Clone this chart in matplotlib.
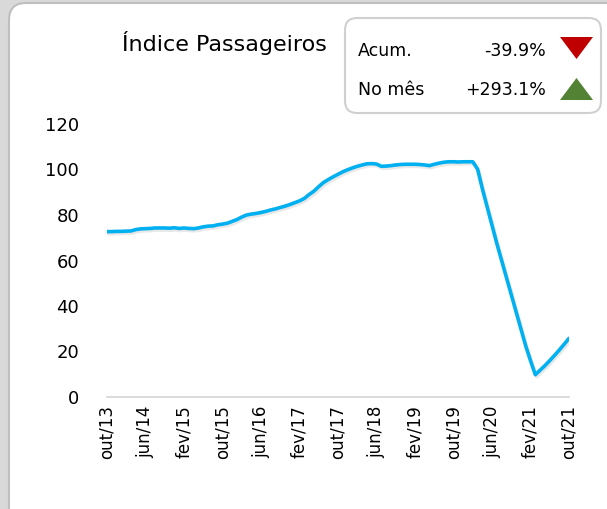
import matplotlib
matplotlib.use("Agg")
import matplotlib.pyplot as plt
import matplotlib.patheffects as pe
from matplotlib.patches import FancyBboxPatch, Polygon
import numpy as np

# Índice de passageiros, mensal, out/13 a out/21
indice = [
    72.7, 72.7, 72.8, 72.8, 72.9, 73.0, 73.6, 73.9, 74.0, 74.1,
    74.3, 74.3, 74.3, 74.2, 74.4, 74.1, 74.3, 74.1, 74.0, 74.3,
    74.8, 75.1, 75.2, 75.7, 76.0, 76.4, 77.2, 78.0, 79.1, 80.0,
    80.4, 80.7, 81.1, 81.6, 82.2, 82.7, 83.3, 83.9, 84.6, 85.4,
    86.2, 87.3, 89.0, 90.5, 92.5, 94.3, 95.6, 96.8, 97.9, 99.0,
    99.9, 100.7, 101.4, 102.0, 102.5, 102.6, 102.4, 101.4, 101.5, 101.7,
    102.0, 102.2, 102.3, 102.3, 102.3, 102.2, 102.0, 101.7, 102.3, 102.8,
    103.2, 103.4, 103.4, 103.3, 103.4, 103.4, 103.4, 100.2, 91.5, 83.5,
    75.5, 67.5, 60.0, 52.5, 45.0, 37.5, 30.0, 22.5, 16.0, 9.8,
    11.8, 13.8, 16.0, 18.3, 20.7, 23.2, 25.8,
]
meses_lbl = ["out/13", "jun/14", "fev/15", "out/15", "jun/16", "fev/17", "out/17",
             "jun/18", "fev/19", "out/19", "jun/20", "fev/21", "out/21"]
yticks = [0, 20, 40, 60, 80, 100, 120]

titulo = "Índice Passageiros"
acum_lbl, acum_val = "Acum.", "-39.9%"
mes_lbl, mes_val = "No mês", "+293.1%"

W, H = 607, 509
fig = plt.figure(figsize=(W / 100, H / 100), dpi=100)
fig.patch.set_facecolor("#d9d9d9")

def fx(x):
    return x / W

def fy(y):
    return 1 - y / H

# white card behind everything
card = FancyBboxPatch((fx(9), fy(530)), fx(630) - fx(9), fy(3) - fy(530),
                      boxstyle="round,pad=0,rounding_size=0.028",
                      transform=fig.transFigure, facecolor="white",
                      edgecolor="#bfbfbf", linewidth=1.5, mutation_aspect=W / H,
                      zorder=-10)
fig.patches.append(card)

ax = fig.add_axes([fx(107), fy(397), fx(569) - fx(107), fy(124) - fy(397)])
ax.set_facecolor("none")
ax.set_zorder(2)

x = np.arange(len(indice))
ax.plot(x, indice, color="#00b0f0", linewidth=2.6, solid_capstyle="round",
        path_effects=[pe.SimpleLineShadow(offset=(1, -1.5), shadow_color="gray", alpha=0.18),
                      pe.Normal()])

ax.set_xlim(0, len(indice) - 1)
ax.set_ylim(0, 120)
ax.set_yticks(yticks)
ax.set_xticks(np.arange(0, len(indice), 8))
ax.set_xticklabels(meses_lbl, rotation=90)
for s in ["top", "right", "left"]:
    ax.spines[s].set_visible(False)
ax.spines["bottom"].set_color("#d9d9d9")
ax.spines["bottom"].set_linewidth(1.3)
ax.tick_params(axis="y", length=0, pad=20, labelsize=13)
ax.tick_params(axis="x", length=0, pad=6, labelsize=12)

fig.text(fx(224), fy(43), titulo, ha="center", va="center", fontsize=16)

# legend box
box = FancyBboxPatch((fx(345), fy(113)), fx(601) - fx(345), fy(18) - fy(113),
                     boxstyle="round,pad=0,rounding_size=0.02",
                     transform=fig.transFigure, facecolor="white",
                     edgecolor="#d0d0d0", linewidth=1.5, mutation_aspect=W / H)
fig.patches.append(box)

fig.text(fx(358), fy(51), acum_lbl, ha="left", va="center", fontsize=12.5)
fig.text(fx(546), fy(51), acum_val, ha="right", va="center", fontsize=12.5)
fig.text(fx(358), fy(90), mes_lbl, ha="left", va="center", fontsize=12.5)
fig.text(fx(546), fy(90), mes_val, ha="right", va="center", fontsize=12.5)

down = Polygon([(fx(560), fy(37)), (fx(593), fy(37)), (fx(576.5), fy(59))],
               closed=True, transform=fig.transFigure, facecolor="#c00000", edgecolor="none")
up = Polygon([(fx(560), fy(100)), (fx(593), fy(100)), (fx(576.5), fy(78))],
             closed=True, transform=fig.transFigure, facecolor="#548235", edgecolor="none")
fig.patches.append(down)
fig.patches.append(up)

fig.savefig("out.png", dpi=100, facecolor=fig.get_facecolor())
